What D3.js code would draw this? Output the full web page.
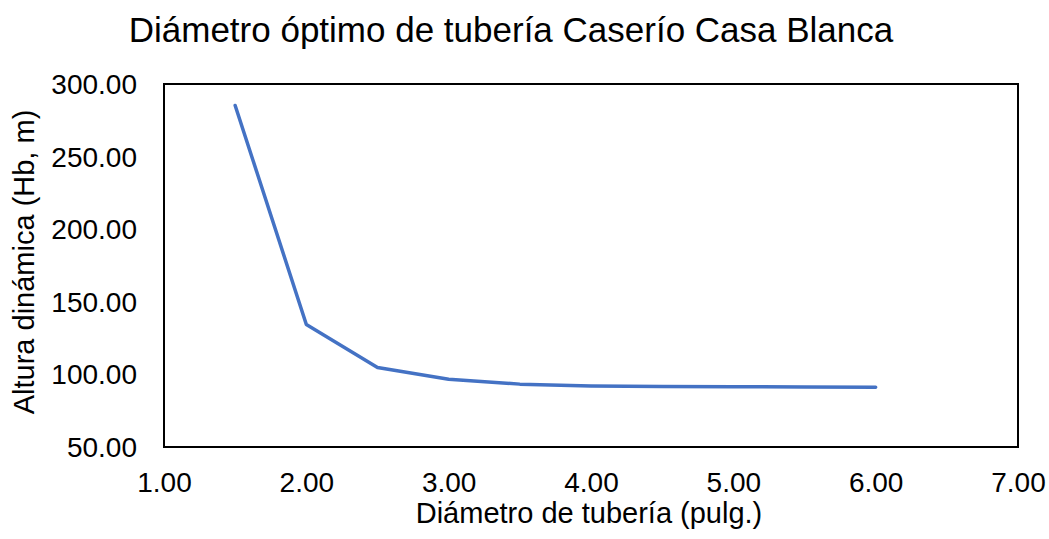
<!DOCTYPE html>
<html>
<head>
<meta charset="utf-8">
<script src="https://cdn.jsdelivr.net/npm/d3@7"></script>
<style>
  body { margin: 0; background: #fff; }
  text { font-family: "Liberation Sans", Arial, sans-serif; fill: #000; }
</style>
</head>
<body>
<svg id="chart"></svg>
<script>
const diametros = [1.5, 2.0, 2.5, 3.0, 3.5, 4.0, 4.5, 5.0, 5.5, 6.0];
const alturas = [285.2, 134.4, 104.8, 96.6, 93.3, 92.0, 91.7, 91.5, 91.3, 91.1];
const xTicks = [1, 2, 3, 4, 5, 6, 7];
const yTicks = [50, 100, 150, 200, 250, 300];

const width = 1049;
const height = 539;
const margin = {top: 84, right: 31, bottom: 92, left: 164};

const svg = d3.select('#chart')
    .attr('width', width)
    .attr('height', height);

const x = d3.scaleLinear()
    .domain([1, 7])
    .range([margin.left, width - margin.right]);

const y = d3.scaleLinear()
    .domain([50, 300])
    .range([height - margin.bottom, margin.top]);

// frame
svg.append('rect')
    .attr('x', x(1))
    .attr('y', y(300))
    .attr('width', x(7) - x(1))
    .attr('height', y(50) - y(300))
    .attr('fill', 'none')
    .attr('stroke', '#000')
    .attr('stroke-width', 2);

const xAxis = d3.axisBottom(x)
    .tickValues(xTicks)
    .tickFormat(d3.format('.2f'))
    .tickSize(0)
    .tickPadding(25);

svg.append('g')
    .attr('transform', `translate(0,${y(50)})`)
    .call(xAxis)
    .call(g => g.select('.domain').remove())
    .selectAll('text')
    .style('font-size', '28px');

const yAxis = d3.axisLeft(y)
    .tickValues(yTicks)
    .tickFormat(d3.format('.2f'))
    .tickSize(0)
    .tickPadding(27);

svg.append('g')
    .attr('transform', `translate(${x(1)},0)`)
    .call(yAxis)
    .call(g => g.select('.domain').remove())
    .selectAll('text')
    .attr('dy', '0.34em')
    .style('font-size', '28px');

const line = d3.line()
    .x((d, i) => x(diametros[i]))
    .y(d => y(d));

svg.append('path')
    .datum(alturas)
    .attr('fill', 'none')
    .attr('stroke', '#4472C4')
    .attr('stroke-width', 3.5)
    .attr('stroke-linejoin', 'round')
    .attr('stroke-linecap', 'round')
    .attr('d', line);

svg.append('text')
    .attr('x', 511)
    .attr('y', 42)
    .attr('text-anchor', 'middle')
    .style('font-size', '35px')
    .text('Diámetro óptimo de tubería Caserío Casa Blanca');

svg.append('text')
    .attr('x', 589)
    .attr('y', 523)
    .attr('text-anchor', 'middle')
    .style('font-size', '29px')
    .text('Diámetro de tubería (pulg.)');

svg.append('text')
    .attr('transform', `translate(34,262) rotate(-90)`)
    .attr('text-anchor', 'middle')
    .style('font-size', '29px')
    .text('Altura dinámica (Hb, m)');
</script>
</body>
</html>
